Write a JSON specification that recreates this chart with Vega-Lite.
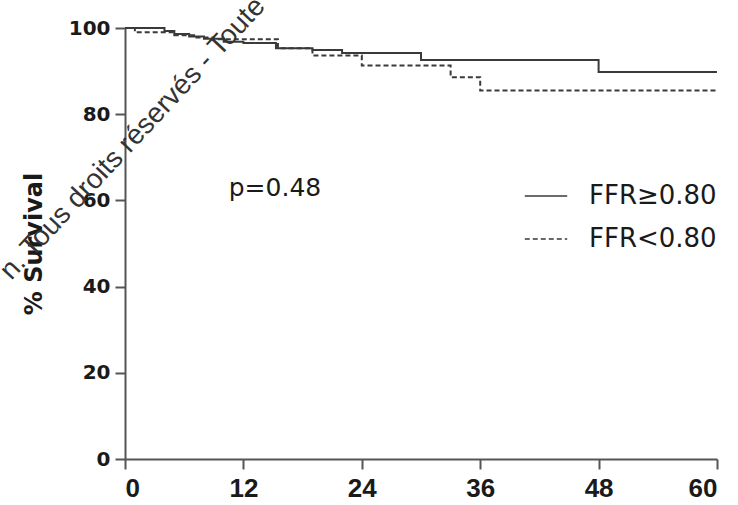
{
  "$schema": "https://vega.github.io/schema/vega-lite/v6.json",
  "width": 592,
  "height": 431,
  "autosize": {"type": "none"},
  "padding": {"left": 125, "top": 28, "right": 21, "bottom": 46},
  "background": "white",
  "config": {
    "view": {"stroke": null},
    "font": "DejaVu Sans"
  },
  "datasets": {
    "curves": [
      {"group": "FFR≥0.80", "month": 0, "surv": 100},
      {"group": "FFR≥0.80", "month": 4, "surv": 99.3},
      {"group": "FFR≥0.80", "month": 5, "surv": 98.6},
      {"group": "FFR≥0.80", "month": 6.5, "surv": 98.0},
      {"group": "FFR≥0.80", "month": 8, "surv": 97.5},
      {"group": "FFR≥0.80", "month": 10, "surv": 96.8},
      {"group": "FFR≥0.80", "month": 12, "surv": 96.5},
      {"group": "FFR≥0.80", "month": 15.3, "surv": 95.3},
      {"group": "FFR≥0.80", "month": 19, "surv": 94.9},
      {"group": "FFR≥0.80", "month": 22, "surv": 94.2},
      {"group": "FFR≥0.80", "month": 30, "surv": 92.6},
      {"group": "FFR≥0.80", "month": 48, "surv": 89.8},
      {"group": "FFR≥0.80", "month": 60, "surv": 89.8},
      {"group": "FFR<0.80", "month": 0, "surv": 100},
      {"group": "FFR<0.80", "month": 1, "surv": 99.0},
      {"group": "FFR<0.80", "month": 5, "surv": 98.3},
      {"group": "FFR<0.80", "month": 7, "surv": 97.8},
      {"group": "FFR<0.80", "month": 9, "surv": 97.4},
      {"group": "FFR<0.80", "month": 15.5, "surv": 95.3},
      {"group": "FFR<0.80", "month": 19, "surv": 93.6},
      {"group": "FFR<0.80", "month": 24, "surv": 91.3},
      {"group": "FFR<0.80", "month": 33, "surv": 88.6},
      {"group": "FFR<0.80", "month": 36, "surv": 85.5},
      {"group": "FFR<0.80", "month": 60, "surv": 85.5}
    ],
    "notes": [
      {"label": "p=0.48", "month": 15.2, "surv": 62.9}
    ],
    "watermark": [
      {"label": "n. Tous droits réservés - Toute", "month": 0.8, "surv": 74.3}
    ]
  },
  "layer": [
    {
      "data": {"name": "curves"},
      "mark": {"type": "line", "interpolate": "step-after", "strokeWidth": 2, "color": "#3a3a3a"},
      "encoding": {
        "x": {
          "field": "month", "type": "quantitative",
          "scale": {"domain": [0, 60], "nice": false},
          "axis": {
            "values": [0, 12, 24, 36, 48, 60],
            "title": null, "grid": false,
            "domainColor": "#555", "domainWidth": 2,
            "tickColor": "#555", "tickWidth": 2, "tickSize": 10,
            "labelFont": "Liberation Sans", "labelFontWeight": "bold", "labelFontSize": 26,
            "labelColor": "#1a1a1a", "labelPadding": 6
          }
        },
        "y": {
          "field": "surv", "type": "quantitative",
          "scale": {"domain": [0, 100], "nice": false},
          "axis": {
            "values": [0, 20, 40, 60, 80, 100],
            "title": "% Survival", "grid": false,
            "titleFont": "DejaVu Sans", "titleFontWeight": "bold", "titleFontSize": 24,
            "titleColor": "#1a1a1a", "titlePadding": 22,
            "domainColor": "#555", "domainWidth": 2,
            "tickColor": "#555", "tickWidth": 2, "tickSize": 10,
            "labelFont": "DejaVu Sans", "labelFontWeight": "bold", "labelFontSize": 20,
            "labelColor": "#1a1a1a", "labelPadding": 5
          }
        },
        "strokeDash": {
          "field": "group", "type": "nominal",
          "scale": {"domain": ["FFR≥0.80", "FFR<0.80"], "range": [[1, 0], [5, 3]]},
          "legend": {
            "title": null,
            "orient": "none",
            "legendX": 399,
            "legendY": 146,
            "padding": 0,
            "symbolType": "stroke",
            "symbolSize": 1800,
            "symbolStrokeColor": "#3a3a3a",
            "symbolStrokeWidth": 1.5,
            "labelFont": "DejaVu Sans",
            "labelFontSize": 26,
            "labelColor": "#1a1a1a",
            "labelOffset": 21,
            "rowPadding": 8,
            "labelLimit": 300
          }
        }
      }
    },
    {
      "data": {"name": "notes"},
      "mark": {"type": "text", "font": "DejaVu Sans", "fontSize": 25, "color": "#1a1a1a", "align": "center", "baseline": "middle"},
      "encoding": {
        "x": {"field": "month", "type": "quantitative"},
        "y": {"field": "surv", "type": "quantitative"},
        "text": {"field": "label"}
      }
    },
    {
      "data": {"name": "watermark"},
      "mark": {"type": "text", "font": "Liberation Sans", "fontSize": 28, "color": "#333333", "align": "center", "baseline": "middle", "angle": -47},
      "encoding": {
        "x": {"field": "month", "type": "quantitative"},
        "y": {"field": "surv", "type": "quantitative"},
        "text": {"field": "label"}
      }
    }
  ]
}
